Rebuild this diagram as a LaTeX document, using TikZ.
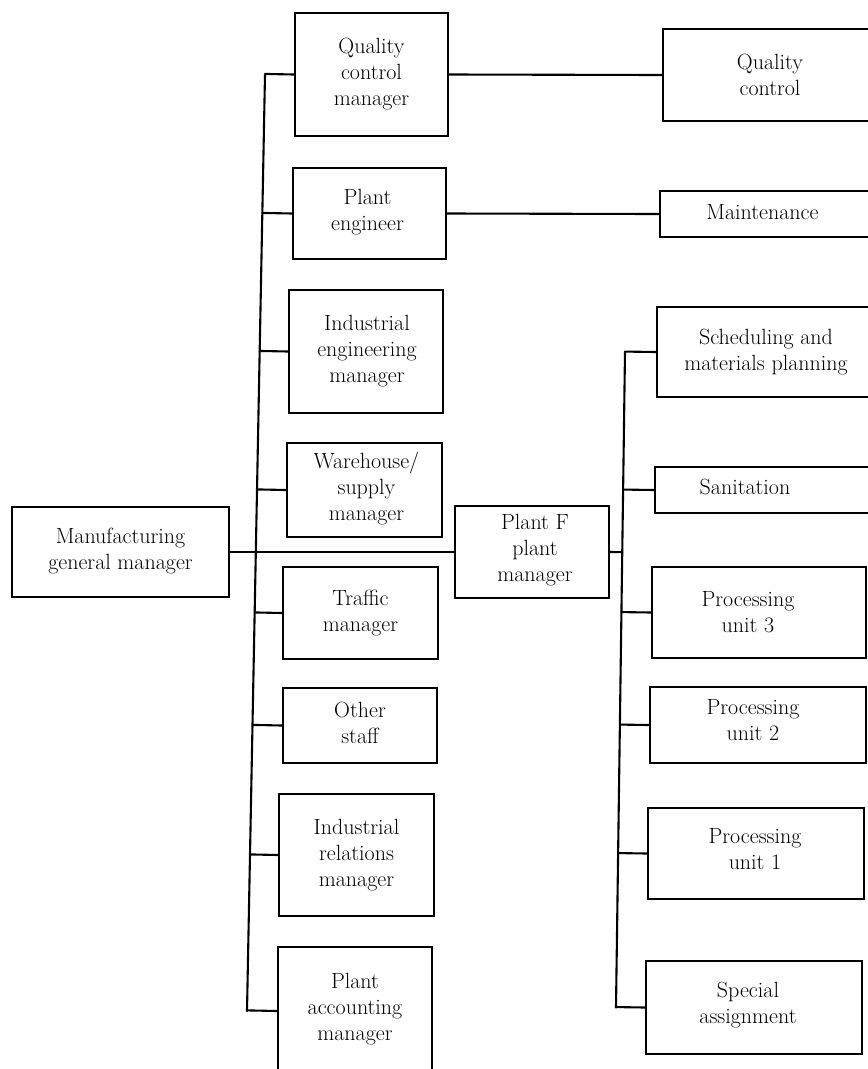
\documentclass[tikz,border=0pt]{standalone}
\usetikzlibrary{calc}
\tikzset{
  ln/.style={line width=2.1pt, line cap=round, line join=round},
  boxst/.style={draw, line width=2.1pt, inner sep=0pt, rectangle},
  lbl/.style={align=center, font=\fontsize{22}{26}\selectfont, inner sep=0pt},
}
% name, x1, y1, x2, y2, text dx, text dy, text
\newcommand\orgbox[8]{%
  \node[boxst, minimum width={(#4-#2)*1pt}, minimum height={(#5-#3)*1pt}] (#1) at ({(#2+#4)/2},{(#3+#5)/2}) {};
  \node[lbl] (#1-t) at ($(#1.center)+(#6,#7)$) {#8};
}
\begin{document}
\begin{tikzpicture}[x=1pt,y=-1pt]
\useasboundingbox (0,0) rectangle (868,1069);
\clip (0,0) rectangle (868,1069);

% left column
\orgbox{gm}{12}{507}{229}{597}{0}{-1}{Manufacturing\\general manager}

% middle column
\orgbox{qcm}{295}{13}{448}{136}{0}{0}{Quality\\control\\manager}
\orgbox{pe}{293}{168}{446}{259}{-2}{-1}{Plant\\engineer}
\orgbox{iem}{289}{290}{443}{413}{1}{0}{Industrial\\engineering\\manager}
\orgbox{wh}{287}{443}{442}{537}{2}{-2}{Warehouse/\\supply\\manager}
\orgbox{tr}{283}{567}{438}{659}{0}{0}{Traffic\\manager}
\orgbox{os}{283}{688}{437}{763}{0}{-3}{Other\\staff}
\orgbox{irm}{279}{794}{434}{916}{0}{0}{Industrial\\relations\\manager}
\orgbox{pam}{278}{947}{432}{1075}{0}{-2}{Plant\\accounting\\manager}

\orgbox{pf}{455}{506}{609}{598}{3}{-2}{Plant F\\plant\\manager}

% right column
\orgbox{qc}{663}{29}{875}{121}{1}{0}{Quality\\control}
\orgbox{mt}{660}{191}{875}{237}{-5}{-2}{Maintenance}
\orgbox{sch}{657}{307}{875}{397}{0}{0}{Scheduling and\\materials planning}
\orgbox{san}{655}{467}{875}{513}{-20}{-3}{Sanitation}
\orgbox{p3}{652}{567}{866}{658}{-11}{0}{Processing\\unit 3}
\orgbox{p2}{650}{687}{866}{763}{-5}{-5}{Processing\\unit 2}
\orgbox{p1}{648}{808}{864}{899}{-1}{-4}{Processing\\unit 1}
\orgbox{sa}{646}{961}{862}{1054}{-6}{-2}{Special\\assignment}

% left trunk
\coordinate (lt) at (265,74.5);
\coordinate (lb) at (247,1011);
\draw[ln] (lt) -- (lb);
\foreach \n in {qcm,pe,iem,wh,tr,os,irm,pam}
  \draw[ln] ($(lt)!(\n.west)!(lb)$) -- (\n.west);

% right trunk
\coordinate (rt) at (625,352);
\coordinate (rb) at (616,1007.5);
\draw[ln] (rt) -- (rb);
\foreach \n in {sch,san,p3,p2,p1,sa}
  \draw[ln] ($(rt)!(\n.west)!(rb)$) -- (\n.west);
\draw[ln] (pf.east) -- ($(rt)!(pf.east)!(rb)$);

% horizontal links
\draw[ln] (gm.east) -- (pf.west);
\draw[ln] (qcm.east) -- (qc.west);
\draw[ln] (pe.east) -- (mt.west);
\end{tikzpicture}
\end{document}
